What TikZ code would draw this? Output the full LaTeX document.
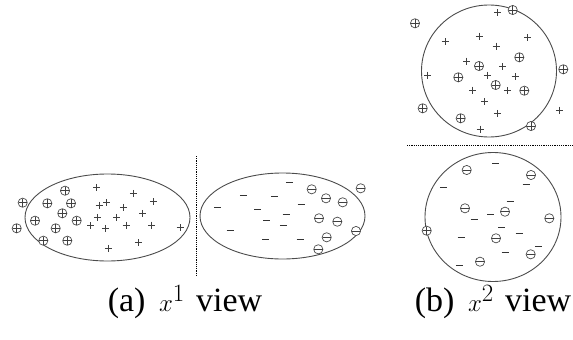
\documentclass[tikz,border=0pt]{standalone}
\usepackage{fontspec}
\setmainfont{Liberation Serif}
\tikzstyle{blob} = [draw=black!70, line width=0.9pt]
\tikzstyle{sign} = [draw=black!75, line width=0.7pt]
\tikzstyle{minusbar} = [draw=black!80, line width=1pt]
\tikzstyle{ring} = [draw=black!70, line width=0.7pt, fill=white]
\tikzstyle{divider} = [draw=black, line width=0.8pt, dash pattern=on 1.2pt off 1pt]
\tikzstyle{caption} = [font=\fontsize{34}{40}\selectfont, anchor=base, inner sep=0pt]

\begin{document}
\begin{tikzpicture}[x=1pt, y=-1pt]
\useasboundingbox (0,0) rectangle (573,340);

% (a) x1 view
\draw [blob] (107.5,217.5) ellipse [x radius=82.5, y radius=43.5];
\draw [blob] (282.5,216) ellipse [x radius=82.5, y radius=43];
\draw [divider] (196,156) -- (196,276);

\foreach \x/\y in {96.7/187.3, 133.3/193.3, 153.3/201.7, 99/205, 106.7/202.7, 123.3/207.3,
  142.7/213.3, 97.3/217.3, 116.7/217.3, 90.7/225.7, 105.3/228.3, 126/225, 151.7/225,
  180/227.7, 138.3/242.7, 108.3/248.3}
  \draw [sign] (\x-3.5,\y) -- (\x+3.5,\y) (\x,\y-3.5) -- (\x,\y+3.5);

\foreach \x/\y in {65/190.7, 22.7/202.7, 47.3/203.3, 71/203.3, 62.3/213.3, 35/220.7,
  76.7/220.7, 16.7/228.3, 55.7/228.3, 43.3/240.7, 67.3/240.7}
  {\draw [ring] (\x,\y) circle [radius=4.6];
   \draw [sign, line width=0.5pt] (\x-4.2,\y) -- (\x+4.2,\y) (\x,\y-4.2) -- (\x,\y+4.2);}

\foreach \x/\y in {289.3/182.7, 243.3/195.7, 274.3/196.7, 301/204, 217.7/207.3, 257.7/209,
  286/214, 266.7/220.7, 283.3/225.7, 230/230, 265.7/239, 300/239}
  \draw [minusbar] (\x-3.5,\y) -- (\x+3.5,\y);

\foreach \x/\y in {311.7/189.3, 360.7/188.3, 326/198.3, 342.7/202.3, 319/218.3,
  337.3/221.7, 356/231, 326.7/237.3, 318.3/249.3}
  {\draw [ring] (\x,\y) circle [radius=4.6];
   \draw [sign, line width=0.6pt] (\x-4.2,\y) -- (\x+4.2,\y);}

% (b) x2 view
\draw [blob] (489,71) ellipse [x radius=67.5, y radius=66];
\draw [blob] (493,217) ellipse [x radius=68, y radius=64.5];
\draw [divider] (407,145) -- (573,145);

\foreach \x/\y in {497.7/12.7, 445/41.7, 479.3/36, 527.7/37.7, 496/46, 466.7/61,
  502.7/66.7, 427.7/75, 487.3/75, 515/76.7, 472.7/90, 507.3/90.7, 484.3/101.7,
  559.3/110, 497.3/113.3, 480/129}
  \draw [sign] (\x-3.5,\y) -- (\x+3.5,\y) (\x,\y-3.5) -- (\x,\y+3.5);

\foreach \x/\y in {415/23.3, 512.7/10, 519.3/57.3, 479/66, 458.3/77.3, 563.3/69.3,
  495.7/85, 524.3/90.7, 422.7/108.3, 460.7/118.3, 531/126, 426.7/230.7}
  {\draw [ring] (\x,\y) circle [radius=4.6];
   \draw [sign, line width=0.5pt] (\x-4.2,\y) -- (\x+4.2,\y) (\x,\y-4.2) -- (\x,\y+4.2);}

\foreach \x/\y in {495.7/163.3, 443.3/187.3, 526/184.3, 510/201, 474/219.3, 490.7/214,
  501.7/227.3, 519/233.3, 461/237.7, 538.3/246, 505/252.7, 459.3/265}
  \draw [minusbar] (\x-3.5,\y) -- (\x+3.5,\y);

\foreach \x/\y in {466.7/170, 531/175, 465/208.3, 505/211.7, 549.3/218.3, 496/238.3,
  530.7/254.3, 480/261.7}
  {\draw [ring] (\x,\y) circle [radius=4.6];
   \draw [sign, line width=0.6pt] (\x-4.2,\y) -- (\x+4.2,\y);}

% Captions
\node (capa) [caption] at (185,311) {(a)\hspace{0.4em}$x^1$\hspace{0.33em}view};
\node (capb) [caption] at (493,311) {(b)\hspace{0.4em}$x^2$\hspace{0.33em}view};

\end{tikzpicture}
\end{document}
